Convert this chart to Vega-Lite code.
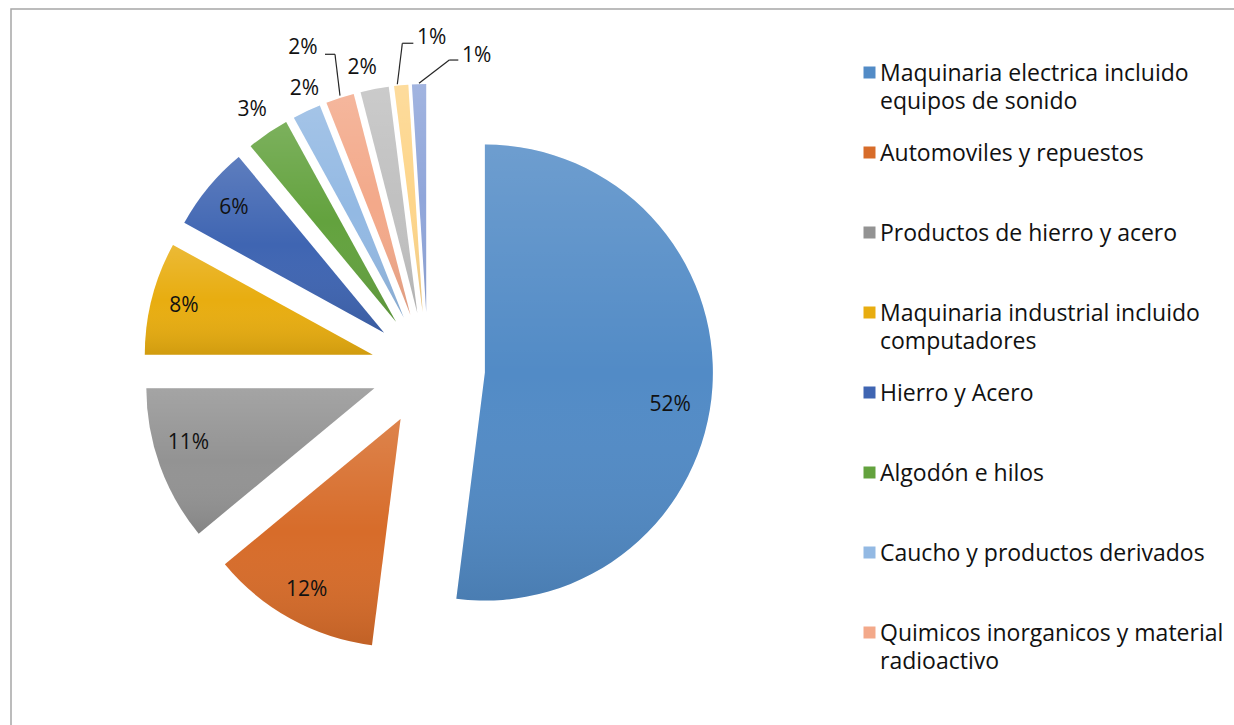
{
  "$schema": "https://vega.github.io/schema/vega-lite/v6.json",
  "width": 1240,
  "height": 730,
  "autosize": "none",
  "padding": {"left": 11, "top": 9, "right": 0, "bottom": 0},
  "background": "white",
  "view": {"stroke": "#a6a6a6", "strokeWidth": 1.5},
  "config": {
    "style": {"guide-label": {"lineHeight": 28, "dy": 8}}
  },
  "data": {
    "values": [
      {"category": "Maquinaria electrica incluido|equipos de sonido", "value": 52, "order": 1},
      {"category": "Automoviles y repuestos", "value": 12, "order": 2},
      {"category": "Productos de hierro y acero", "value": 11, "order": 3},
      {"category": "Maquinaria industrial incluido|computadores", "value": 8, "order": 4},
      {"category": "Hierro y Acero", "value": 6, "order": 5},
      {"category": "Algodón e hilos", "value": 3, "order": 6},
      {"category": "Caucho y productos derivados", "value": 2, "order": 7},
      {"category": "Quimicos inorganicos y material|radioactivo", "value": 2, "order": 8},
      {"category": "Otros 1", "value": 2, "order": 9},
      {"category": "Otros 2", "value": 1, "order": 10},
      {"category": "Otros 3", "value": 1, "order": 11}
    ]
  },
  "transform": [
    {"window": [{"op": "sum", "field": "value", "as": "cum"}], "sort": [{"field": "order"}], "frame": [null, 0]},
    {"calculate": "datum.cum - datum.value", "as": "start"},
    {"calculate": "datum.cum - datum.value / 2", "as": "mid"},
    {"calculate": "sin(2 * PI * datum.mid / 100)", "as": "ex"},
    {"calculate": "cos(2 * PI * datum.mid / 100)", "as": "ey"},
    {"calculate": "datum.value + '%'", "as": "label"}
  ],
  "encoding": {
    "x": {"field": "ex", "type": "quantitative", "scale": {"domain": [-1, 1], "range": [360, 474]}, "axis": null},
    "y": {"field": "ey", "type": "quantitative", "scale": {"domain": [-1, 1], "range": [417, 303]}, "axis": null}
  },
  "layer": [
    {
      "mark": {"type": "arc", "outerRadius": 228, "stroke": null},
      "encoding": {
        "theta": {"field": "start", "type": "quantitative", "stack": null, "scale": {"domain": [0, 100]}},
        "theta2": {"field": "cum"},
        "color": {
          "field": "category",
          "type": "nominal",
          "scale": {
            "domain": [
              "Maquinaria electrica incluido|equipos de sonido",
              "Automoviles y repuestos",
              "Productos de hierro y acero",
              "Maquinaria industrial incluido|computadores",
              "Hierro y Acero",
              "Algodón e hilos",
              "Caucho y productos derivados",
              "Quimicos inorganicos y material|radioactivo",
              "Otros 1",
              "Otros 2",
              "Otros 3"
            ],
            "range": ["#528bc6", "#d76c2a", "#939393", "#e8ad10", "#3f65b2", "#63a23e", "#93b9e3", "#f3a98a", "#c1c1c1", "#fdd58a", "#90a6da"]
          },
          "legend": {
            "orient": "none",
            "legendX": 847,
            "legendY": 52,
            "title": null,
            "values": [
              "Maquinaria electrica incluido|equipos de sonido",
              "Automoviles y repuestos",
              "Productos de hierro y acero",
              "Maquinaria industrial incluido|computadores",
              "Hierro y Acero",
              "Algodón e hilos",
              "Caucho y productos derivados",
              "Quimicos inorganicos y material|radioactivo"
            ],
            "symbolType": "square",
            "symbolSize": 144,
            "symbolStrokeWidth": 0,
            "labelFont": "Open Sans",
            "labelFontSize": 23,
            "labelColor": "#111111",
            "labelLimit": 500,
            "labelOffset": -1,
            "labelBaseline": "alphabetic",
            "labelExpr": "split(datum.label, '|')",
            "gridAlign": "all",
            "rowPadding": 27
          }
        }
      }
    },
    {
      "mark": {
        "type": "arc",
        "outerRadius": 228,
        "fill": {
          "gradient": "linear", "x1": 0, "y1": 0, "x2": 0, "y2": 1,
          "stops": [
            {"offset": 0, "color": "rgba(255,255,255,0.16)"},
            {"offset": 0.5, "color": "rgba(255,255,255,0)"},
            {"offset": 1, "color": "rgba(0,0,0,0.1)"}
          ]
        }
      },
      "encoding": {
        "theta": {"field": "start", "type": "quantitative", "stack": null, "scale": {"domain": [0, 100]}},
        "theta2": {"field": "cum"}
      }
    },
    {
      "transform": [{"filter": "datum.order == 1"}],
      "mark": {"type": "text", "radius": 188, "thetaOffset": 0.108, "font": "Open Sans", "fontSize": 21, "color": "#111111", "align": "center", "baseline": "middle"},
      "encoding": {"theta": {"field": "mid", "type": "quantitative", "stack": null, "scale": {"domain": [0, 100]}}, "text": {"field": "label"}}
    },
    {
      "transform": [{"filter": "datum.order == 2 || datum.order == 4 || datum.order == 5"}],
      "mark": {"type": "text", "radius": 195, "font": "Open Sans", "fontSize": 21, "color": "#111111", "align": "center", "baseline": "middle"},
      "encoding": {"theta": {"field": "mid", "type": "quantitative", "stack": null, "scale": {"domain": [0, 100]}}, "text": {"field": "label"}}
    },
    {
      "transform": [{"filter": "datum.order == 3"}],
      "mark": {"type": "text", "radius": 194, "thetaOffset": 0.058, "font": "Open Sans", "fontSize": 21, "color": "#111111", "align": "center", "baseline": "middle"},
      "encoding": {"theta": {"field": "mid", "type": "quantitative", "stack": null, "scale": {"domain": [0, 100]}}, "text": {"field": "label"}}
    },
    {
      "transform": [{"filter": "datum.order == 6"}],
      "mark": {"type": "text", "radius": 256, "font": "Open Sans", "fontSize": 21, "color": "#111111", "align": "center", "baseline": "middle"},
      "encoding": {"theta": {"field": "mid", "type": "quantitative", "stack": null, "scale": {"domain": [0, 100]}}, "text": {"field": "label"}}
    },
    {
      "transform": [{"filter": "datum.order == 7"}],
      "mark": {"type": "text", "radius": 249, "thetaOffset": 0.03, "font": "Open Sans", "fontSize": 21, "color": "#111111", "align": "center", "baseline": "middle"},
      "encoding": {"theta": {"field": "mid", "type": "quantitative", "stack": null, "scale": {"domain": [0, 100]}}, "text": {"field": "label"}}
    },
    {
      "transform": [{"filter": "datum.order == 9"}],
      "mark": {"type": "text", "radius": 251, "thetaOffset": -0.033, "font": "Open Sans", "fontSize": 21, "color": "#111111", "align": "center", "baseline": "middle"},
      "encoding": {"theta": {"field": "mid", "type": "quantitative", "stack": null, "scale": {"domain": [0, 100]}}, "text": {"field": "label"}}
    },
    {
      "transform": [{"filter": "datum.order == 8"}],
      "mark": {"type": "text", "radius": 287.6, "thetaOffset": -0.0686, "font": "Open Sans", "fontSize": 21, "color": "#111111", "align": "center", "baseline": "middle"},
      "encoding": {"theta": {"field": "mid", "type": "quantitative", "stack": null, "scale": {"domain": [0, 100]}}, "text": {"field": "label"}}
    },
    {
      "transform": [{"filter": "datum.order == 10"}],
      "mark": {"type": "text", "radius": 274.8, "thetaOffset": 0.127, "font": "Open Sans", "fontSize": 21, "color": "#111111", "align": "center", "baseline": "middle"},
      "encoding": {"theta": {"field": "mid", "type": "quantitative", "stack": null, "scale": {"domain": [0, 100]}}, "text": {"field": "label"}}
    },
    {
      "transform": [{"filter": "datum.order == 11"}],
      "mark": {"type": "text", "radius": 261.2, "thetaOffset": 0.226, "font": "Open Sans", "fontSize": 21, "color": "#111111", "align": "center", "baseline": "middle"},
      "encoding": {"theta": {"field": "mid", "type": "quantitative", "stack": null, "scale": {"domain": [0, 100]}}, "text": {"field": "label"}}
    },
    {
      "transform": [{"filter": "datum.order == 8"}],
      "mark": {"type": "rule", "color": "#262626", "strokeWidth": 1.2, "xOffset": -85.4, "yOffset": -260.5, "x2Offset": -75.4, "y2Offset": -260.5},
      "encoding": {"x2": {"field": "ex"}, "y2": {"field": "ey"}}
    },
    {
      "transform": [{"filter": "datum.order == 8"}],
      "mark": {"type": "rule", "color": "#262626", "strokeWidth": 1.2, "xOffset": -75.4, "yOffset": -260.5, "x2Offset": -70.4, "y2Offset": -219.1},
      "encoding": {"x2": {"field": "ex"}, "y2": {"field": "ey"}}
    },
    {
      "transform": [{"filter": "datum.order == 10"}],
      "mark": {"type": "rule", "color": "#262626", "strokeWidth": 1.2, "xOffset": -9.3, "yOffset": -269, "x2Offset": -20.3, "y2Offset": -269},
      "encoding": {"x2": {"field": "ex"}, "y2": {"field": "ey"}}
    },
    {
      "transform": [{"filter": "datum.order == 10"}],
      "mark": {"type": "rule", "color": "#262626", "strokeWidth": 1.2, "xOffset": -20.3, "yOffset": -269, "x2Offset": -25.3, "y2Offset": -228},
      "encoding": {"x2": {"field": "ex"}, "y2": {"field": "ey"}}
    },
    {
      "transform": [{"filter": "datum.order == 11"}],
      "mark": {"type": "rule", "color": "#262626", "strokeWidth": 1.2, "xOffset": 32.1, "yOffset": -252, "x2Offset": 23.1, "y2Offset": -252},
      "encoding": {"x2": {"field": "ex"}, "y2": {"field": "ey"}}
    },
    {
      "transform": [{"filter": "datum.order == 11"}],
      "mark": {"type": "rule", "color": "#262626", "strokeWidth": 1.2, "xOffset": 23.1, "yOffset": -252, "x2Offset": -7.2, "y2Offset": -228.7},
      "encoding": {"x2": {"field": "ex"}, "y2": {"field": "ey"}}
    }
  ]
}
